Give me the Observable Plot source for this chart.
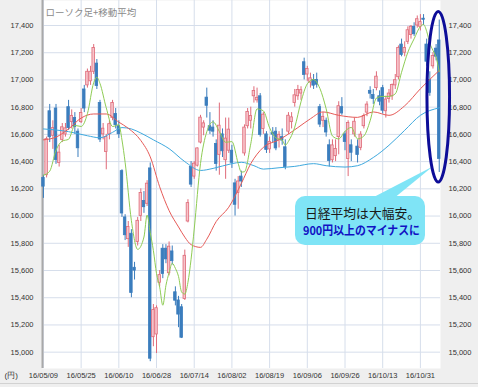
<!DOCTYPE html>
<html><head><meta charset="utf-8">
<script src="https://cdn.jsdelivr.net/npm/d3@7"></script>
<script src="https://cdn.jsdelivr.net/npm/@observablehq/plot@0.6"></script>
<style>
html,body{margin:0;padding:0;background:#efefef;}
#chart{position:relative;width:478px;height:387px;overflow:hidden;}
svg{display:block;}
</style></head><body><div id="chart"></div>
<script>
// x tick positions (trading-day index) and labels
const tickIdx = [0,12,24,36,48,60,72,84,96,108,120];
const tickLabels = ["16/05/09","16/05/25","16/06/10","16/06/28","16/07/14","16/08/02","16/08/19","16/09/06","16/09/26","16/10/13","16/10/31"];
const yTicks = [15000,15200,15400,15600,15800,16000,16200,16400,16600,16800,17000,17200,17400];

// daily candles (index 0 = 16/05/09 ... 126 = 16/11/09)
const open = [16280,16300,16770,16590,16790,16390,16560,16600,16800,16690,16720,16620,16690,16930,16960,16990,17060,17120,16830,16600,16470,16600,16720,16750,16660,16330,15990,15830,15870,15620,15810,16000,16110,16090,16350,15110,15130,15510,15760,15760,15580,15740,15440,15380,15330,15390,15960,16360,16290,16370,16540,16650,16870,16660,16650,16530,16450,16600,16410,16480,16480,16240,16170,16290,16460,16660,16700,16880,16850,16880,16640,16600,16490,16610,16620,16560,16580,16505,16620,16690,16830,16880,16900,17130,17040,16980,17000,17000,16800,16700,16700,16520,16410,16440,16580,16800,16600,16420,16520,16600,16510,16500,16660,16760,16920,16890,16940,16880,16940,16770,16860,16880,16960,17020,17260,17200,17280,17330,17390,17400,17390,17450,17260,17000,17100,17230,17290];
const high = [16300,16580,16820,16700,16820,16520,16680,16680,16850,16780,16760,16640,16790,16960,17080,17100,17260,17150,16850,16680,16600,16700,16850,16790,16700,16340,16010,15960,15900,15660,15990,16200,16180,16260,16390,15350,15340,15600,15790,15790,15810,15780,15480,15410,15350,15750,16120,16400,16400,16500,16740,16700,16940,16760,16700,16560,16830,16640,16720,16720,16520,16270,16290,16330,16670,16790,16800,16950,16940,16900,16760,16620,16580,16650,16650,16620,16640,16560,16760,16760,16930,16960,16950,17160,17100,17050,17040,17050,16820,16760,16720,16560,16560,16560,16840,16870,16620,16700,16560,16720,16560,16620,16750,16840,16950,16930,17060,16920,16960,16880,16930,16970,17040,17250,17300,17280,17390,17400,17420,17470,17480,17480,17300,17060,17200,17260,17440];
const low = [16130,16280,16540,16490,16380,16360,16540,16580,16630,16640,16600,16430,16680,16760,16940,16960,17040,16930,16540,16560,16340,16560,16700,16640,16570,15990,15820,15770,15400,15530,15780,15960,16020,16070,14930,15040,14990,15480,15540,15650,15560,15640,15340,15180,15100,15380,15950,16210,16270,16360,16530,16590,16720,16600,16580,16330,16300,16430,16270,16460,16350,16000,16050,16210,16440,16640,16640,16830,16830,16580,16600,16460,16460,16540,16480,16500,16520,16340,16600,16640,16800,16850,16850,17000,16990,16940,16930,16940,16650,16650,16580,16360,16390,16400,16450,16740,16480,16290,16400,16580,16390,16480,16640,16730,16860,16820,16920,16810,16750,16720,16830,16850,16930,17000,17170,17170,17260,17300,17320,17380,17360,17400,17100,16880,17080,17140,16320];
const close = [16216,16565,16579,16646,16412,16466,16652,16644,16646,16736,16654,16498,16757,16790,17060,17060,17234,16955,16562,16642,16580,16675,16830,16668,16601,16019,15859,15919,15434,15599,15965,16169,16065,16238,14952,15309,15323,15566,15575,15682,15775,15669,15378,15276,15106,15708,16095,16231,16385,16497,16723,16681,16810,16627,16620,16383,16664,16476,16569,16635,16391,16083,16254,16254,16650,16764,16735,16919,16869,16596,16745,16486,16545,16598,16497,16597,16555,16360,16737,16725,16887,16926,16925,17037,17081,17012,16958,16965,16672,16729,16614,16405,16519,16492,16807,16754,16544,16683,16465,16693,16449,16598,16735,16819,16899,16860,17024,16840,16774,16856,16900,16963,16998,17235,17184,17234,17365,17391,17336,17446,17425,17442,17134,16905,17177,17171,16420];

// moving averages
const ma5Idx = [0,2,4,6,8,10,12,14,16,17,18,20,22,24,25,26,28,30,32,33,34,35,36,37,38,39,40,41,42,43,44,45,46,47,48,50,52,54,56,58,60,62,63,64,66,68,70,72,74,76,77,78,80,82,84,86,88,90,92,94,96,98,100,102,104,106,108,110,112,114,116,118,120,121,122,123,124,125,126];
const ma5Val = [16300,16330,16484,16551,16564,16666,16658,16752,16980,17020,16974,16795,16658,16671,16559,16395,15966,15755,15846,16007,15878,15747,15577,15478,15345,15491,15584,15653,15616,15556,15441,15427,15513,15683,15905,16386,16619,16692,16621,16542,16547,16386,16323,16326,16531,16787,16773,16648,16574,16558,16521,16549,16653,16840,16971,17003,16938,16788,16588,16567,16623,16651,16567,16588,16700,16867,16879,16879,16898,17056,17203,17302,17393,17408,17357,17270,17217,17166,17060];
const ma25Idx = [0,4,8,12,16,20,24,27,31,34,37,40,43,45,47,50,52,55,59,63,66,70,75,81,85,89,94,100,105,110,115,120,126];
const ma25Val = [16560,16580,16640,16720,16750,16750,16690,16645,16555,16435,16215,16040,15920,15845,15790,15770,15830,15960,16065,16240,16385,16505,16560,16650,16715,16765,16740,16725,16765,16740,16810,16935,17070];
const ma75Idx = [0,8,14,18,22,25,28,31,35,40,45,50,54,60,63,67,70,75,80,86,90,96,100,105,110,115,120,126];
const ma75Val = [16640,16620,16590,16575,16615,16650,16640,16610,16560,16495,16400,16335,16350,16385,16395,16370,16345,16355,16365,16385,16370,16360,16370,16430,16520,16630,16740,16795];

const title = "ローソク足+移動平均";
const note1 = "日経平均は大幅安。";
const note2 = "900円以上のマイナスに";

const candles = close.map((c, i) => ({i, open: open[i], high: high[i], low: low[i], close: c, up: c >= open[i]}));
const ma5 = ma5Idx.map((i, k) => ({i, v: ma5Val[k]}));
const ma25 = ma25Idx.map((i, k) => ({i, v: ma25Val[k]}));
const ma75 = ma75Idx.map((i, k) => ({i, v: ma75Val[k]}));

const RED_STROKE = "#df6a78", RED_FILL = "#f7c4cb", BLUE = "#3b7dbd";
const GRID = "#d6deeb";
const fmt = d3.format(",");
const AXIS_FONT = "'Liberation Sans', Arial, sans-serif";

const plot = Plot.plot({
  width: 478, height: 387,
  marginLeft: 42, marginRight: 38, marginTop: 0, marginBottom: 19,
  style: {background: "#efefef", fontFamily: AXIS_FONT, overflow: "visible"},
  x: {domain: [-0.3, 126.4], axis: null},
  y: {domain: [14880, 17583.7], axis: null},
  marks: [
    Plot.frame({fill: "white", stroke: "none"}),
    Plot.ruleY(yTicks, {stroke: GRID, strokeWidth: 1}),
    Plot.ruleX(tickIdx, {stroke: GRID, strokeWidth: 1}),
    Plot.ruleX([-0.3], {stroke: "#a9a9a9", strokeWidth: 2}),
    Plot.text(yTicks, {y: d => d, text: d => fmt(d), frameAnchor: "left", dx: -9, textAnchor: "end", fontSize: 7.5, fill: "#333"}),
    Plot.text(yTicks, {y: d => d, text: d => fmt(d), frameAnchor: "right", dx: 8, textAnchor: "start", fontSize: 7.5, fill: "#333"}),
    Plot.text(tickIdx, {x: d => d, text: (d, i) => tickLabels[i], frameAnchor: "bottom", dy: 9, fontSize: 7.5, fill: "#333"}),
    Plot.text(["(円)"], {text: d => d, frameAnchor: "bottom-left", dx: -38, dy: 9, textAnchor: "start", fontSize: 8, fill: "#333"}),
    Plot.text([title], {text: d => d, frameAnchor: "top-left", dx: 3, dy: 9, textAnchor: "start", fontSize: 9.5, fill: "#8a8a8a", fontFamily: "'Noto Sans CJK JP', sans-serif"}),
    Plot.ruleX(candles, {x: "i", y1: "low", y2: "high", stroke: d => d.up ? RED_STROKE : BLUE, strokeWidth: 1}),
    Plot.rect(candles, {x1: d => d.i - 0.4, x2: d => d.i + 0.4, y1: "open", y2: "close", fill: d => d.up ? RED_FILL : BLUE, stroke: d => d.up ? RED_STROKE : BLUE, strokeWidth: 0.8}),
    Plot.line(ma75, {x: "i", y: "v", stroke: "#3fa9de", strokeWidth: 1, curve: "monotone-x"}),
    Plot.line(ma25, {x: "i", y: "v", stroke: "#e65a57", strokeWidth: 1, curve: "monotone-x"}),
    Plot.line(ma5, {x: "i", y: "v", stroke: "#8fcc55", strokeWidth: 1, curve: "monotone-x"})
  ]
});

document.getElementById("chart").appendChild(plot);

// annotation: callout box + ellipse around last candle
const sx = plot.scale("x"), sy = plot.scale("y");
const svg = d3.select(plot);
const g = svg.append("g");
const lastI = close.length - 1;
const cx = sx.apply(lastI);
const tipX = cx - 6, tipY = sy.apply(16360);
g.append("line")
  .attr("x1", 0).attr("x2", 478).attr("y1", 383.5).attr("y2", 383.5)
  .attr("stroke", "#d2d2d2").attr("stroke-width", 1);
g.append("path")
  .attr("d", `M370,199 L393,199 L${tipX},${tipY} Z`)
  .attr("fill", "#7fe4f6");
g.append("rect")
  .attr("x", 295).attr("y", 196).attr("width", 130).attr("height", 49)
  .attr("rx", 10).attr("ry", 10)
  .attr("fill", "#7fe4f6");
g.append("text")
  .attr("x", 362.5).attr("y", 217.5)
  .attr("text-anchor", "middle")
  .attr("font-family", "'Noto Sans CJK JP', sans-serif")
  .attr("font-size", 13)
  .attr("fill", "#1a1a1a")
  .attr("textLength", 115).attr("lengthAdjust", "spacingAndGlyphs")
  .text(note1);
g.append("text")
  .attr("x", 361.5).attr("y", 234.5)
  .attr("text-anchor", "middle")
  .attr("font-family", "'Noto Sans CJK JP', sans-serif")
  .attr("font-size", 12)
  .attr("font-weight", "bold")
  .attr("fill", "#1212c4")
  .attr("textLength", 117).attr("lengthAdjust", "spacingAndGlyphs")
  .text(note2);
const yTop = sy.apply(17500), yBot = sy.apply(16320) + 10;
g.append("ellipse")
  .attr("cx", cx - 0.5).attr("cy", (yTop + yBot) / 2)
  .attr("rx", 11.3).attr("ry", (yBot - yTop) / 2)
  .attr("fill", "none").attr("stroke", "#0d0d98").attr("stroke-width", 3);
</script>
</body></html>
